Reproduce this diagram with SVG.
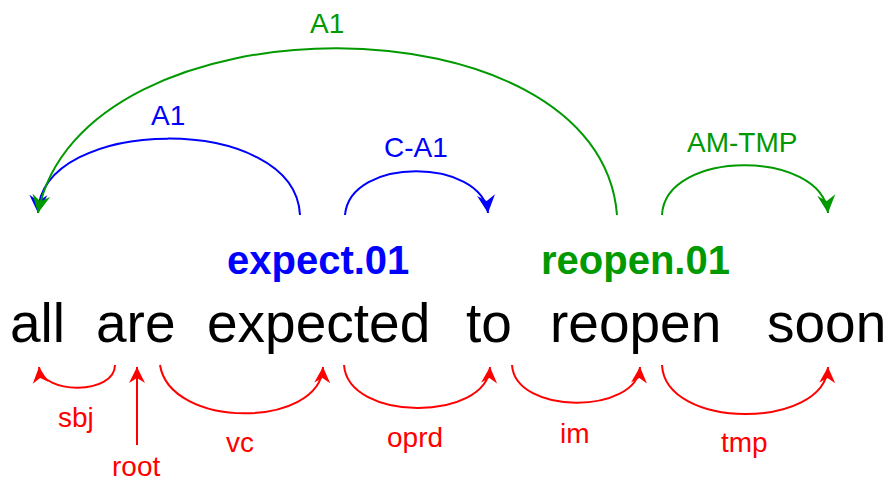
<svg xmlns="http://www.w3.org/2000/svg" width="891" height="484" viewBox="0 0 891 484">
<style>
text{font-family:"Liberation Sans",Arial,sans-serif}
.w{font-size:55px;fill:#000}
.p{font-size:40px;font-weight:bold}
.l{font-size:28px}
.arc{fill:none;stroke-width:2}
.b{stroke:#0000ff}.g{stroke:#009900}.r{stroke:#ff0000}
.tb{fill:#0000ff}.tg{fill:#009900}.tr{fill:#ff0000}
</style>
<defs>
<marker id="mb" markerUnits="userSpaceOnUse" viewBox="-22 -12 24 24" markerWidth="24" markerHeight="24" refX="0" refY="0" orient="auto"><path d="M0,0 L-18,-9 L-12,0 L-18,9 Z" fill="#0000ff"/></marker>
<marker id="mg" markerUnits="userSpaceOnUse" viewBox="-22 -12 24 24" markerWidth="24" markerHeight="24" refX="0" refY="0" orient="auto"><path d="M0,0 L-18,-9 L-12,0 L-18,9 Z" fill="#009900"/></marker>
<marker id="mr" markerUnits="userSpaceOnUse" viewBox="-22 -12 24 24" markerWidth="24" markerHeight="24" refX="0" refY="0" orient="auto"><path d="M0,0 L-16,-8 L-11,0 L-16,8 Z" fill="#ff0000"/></marker>
</defs>
<rect width="891" height="484" fill="#fff"/>
<g id="connectors">
<path class="arc b" d="M300,215 C295,112 40,115 38,213" marker-end="url(#mb)"/>
<path class="arc g" d="M617,215 C600,-7 80,-7 38,213" marker-end="url(#mg)"/>
<path class="arc b" d="M345,215 C350,156 482,158 488,213" marker-end="url(#mb)"/>
<path class="arc g" d="M662,215 C665,149 822,149 828,213" marker-end="url(#mg)"/>
<path class="arc r" d="M115,365 C115,395 42,395 39,367" marker-end="url(#mr)"/>
<path class="arc r" d="M137,445 L137,367" marker-end="url(#mr)"/>
<path class="arc r" d="M160,365 C170,429 320,429 323,367" marker-end="url(#mr)"/>
<path class="arc r" d="M344,365 C348,422 487,422 490,367" marker-end="url(#mr)"/>
<path class="arc r" d="M512,365 C515,415 637,415 640,367" marker-end="url(#mr)"/>
<path class="arc r" d="M662,365 C665,430 825,430 828,367" marker-end="url(#mr)"/>
<text class="l tg" x="310" y="33">A1</text>
<text class="l tb" x="151" y="125">A1</text>
<text class="l tb" x="384" y="157">C-A1</text>
<text class="l tg" x="687" y="152">AM-TMP</text>
<text class="l tr" x="58" y="427">sbj</text>
<text class="l tr" x="112" y="476">root</text>
<text class="l tr" x="226" y="452">vc</text>
<text class="l tr" x="387" y="447">oprd</text>
<text class="l tr" x="560" y="443">im</text>
<text class="l tr" x="721" y="452">tmp</text>
</g>
<g id="w-all"><text class="w" x="10" y="342">all</text></g>
<g id="w-are"><text class="w" x="96" y="342">are</text></g>
<g id="w-expected"><text class="p tb" x="227" y="274">expect.01</text><text class="w" x="207" y="342">expected</text></g>
<g id="w-to"><text class="w" x="466" y="342">to</text></g>
<g id="w-reopen"><text class="p tg" x="541" y="274">reopen.01</text><text class="w" x="550" y="342">reopen</text></g>
<g id="w-soon"><text class="w" x="767" y="342">soon</text></g>
</svg>
